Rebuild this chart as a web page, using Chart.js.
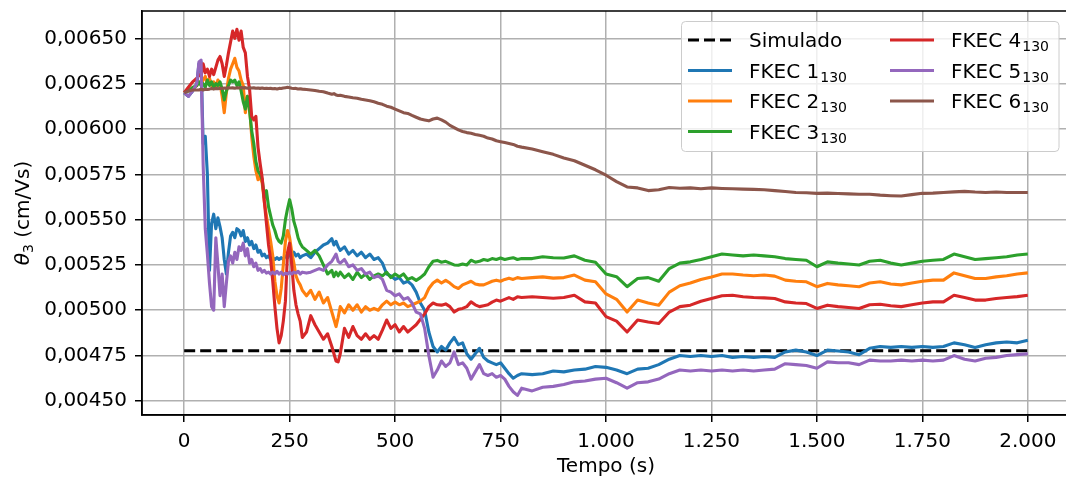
<!DOCTYPE html>
<html>
<head>
<meta charset="utf-8">
<script src="https://cdn.jsdelivr.net/npm/chart.js@4.4.1/dist/chart.umd.min.js"></script>
<style>
  html, body { margin: 0; padding: 0; background: #fff; overflow: hidden; }
  #wrap { width: 1080px; height: 479px; }
</style>
</head>
<body>
<div id="wrap"><canvas id="chart" width="1080" height="479"></canvas></div>
<script>
// tempo (s)
const tempo = [0, 10, 20, 30,
  35, 40, 45, 50, 55, 60, 65, 70, 75, 80,
  85, 90, 95, 100, 105, 110, 115, 120, 125, 130,
  135, 140, 145, 150, 155, 160, 165, 170, 175, 180,
  185, 190, 195, 200, 205, 210, 215, 220, 225, 230,
  235, 240, 245, 250, 255, 260, 265, 270, 275, 280,
  290, 300, 310, 320, 330, 340, 350, 355, 360, 365,
  370, 380, 390, 400, 410, 420, 430, 440, 450, 460,
  470, 480, 490, 500, 510, 520, 530, 540, 550, 560,
  570, 580, 590, 600, 610, 620, 630, 640, 650, 660,
  670, 680, 690, 700, 710, 720, 730, 740, 750, 760,
  770, 780, 790, 800,
  825, 850, 875, 900, 925, 950, 975, 1000, 1025, 1050,
  1075, 1100, 1125, 1150, 1175, 1200, 1225, 1250, 1275, 1300,
  1325, 1350, 1375, 1400, 1425, 1450, 1475, 1500, 1525, 1550,
  1575, 1600, 1625, 1650, 1675, 1700, 1725, 1750, 1775, 1800,
  1825, 1850, 1875, 1900, 1925, 1950, 1975, 2000];

// theta_3 values below are in units of 1e-5 cm/Vs
const UNIT = 1e-5;

const simuladoTempo = [0, 2000];
const simulado = [477.6, 477.6];

const fkec1 = [620, 618, 621, 625,
  636, 637, 592, 596, 575, 522, 548, 553, 545, 551,
  546, 540, 528, 520, 532, 541, 543, 540, 545, 544,
  541, 544, 538, 540, 536, 538, 534, 536, 532, 533,
  530, 531, 529, 530, 528, 529, 528, 529, 528, 529,
  528, 530, 529, 531, 530, 532, 530, 531, 529, 530,
  531, 529, 532, 534, 536, 537, 539.5, 536, 538, 535,
  533, 535, 531, 533, 530, 532, 529, 531, 528, 529,
  526, 520, 519, 517, 518, 515, 516, 514, 510, 504,
  500, 488, 480, 477, 480, 478, 482, 485, 481, 482,
  476, 473, 476, 479, 474, 472, 471, 470, 471, 468,
  465, 462.5, 464, 465,
  464.5, 465, 466.5, 466, 467, 467.5, 469, 468.5, 467, 465,
  467.5, 468, 470, 473, 475, 474.5, 475, 474.5, 475, 474,
  474.5, 474, 474.5, 474, 477, 478, 477, 475, 478, 477.5,
  477, 475.5, 479, 480, 479.5, 480, 479.5, 480, 479.5, 480,
  482, 481, 479.5, 481, 482, 482.5, 482, 483.5];

const fkec2 = [620, 621, 622, 624,
  626, 625, 627, 629, 625, 628, 624, 626, 623, 627,
  625, 618, 609, 620, 628, 633, 636, 639, 634, 632,
  627, 624, 609, 618, 612, 596, 585, 577, 572, 574,
  570, 560, 552, 545, 538, 530, 516, 508, 504, 512,
  525, 538, 544, 540, 532, 526, 519, 516, 514, 511,
  508, 511, 506, 510, 504, 507, 499, 495, 491, 496,
  502, 498.5, 503, 500, 503, 499, 502, 500, 501, 500,
  503, 505, 503, 504.5, 503, 504, 502, 503, 504, 505,
  507, 512, 515, 516.6, 515, 516.5, 515, 513, 512, 514,
  515, 516, 514.5, 514, 514, 515, 516, 516.6, 516, 517,
  517.7, 517, 518, 517.5,
  518, 518.4, 517.7, 518, 519.4, 516.6, 515.7, 509, 506, 499,
  505.6, 504, 502.8, 510, 513.5, 515, 517, 518.4, 520, 520,
  519.4, 519, 519.4, 518.8, 516.6, 516, 515.7, 513, 514.8, 514,
  513.5, 513, 515, 515.7, 514.5, 514, 515, 516, 516.6, 516.6,
  520.6, 519, 517.5, 517.5, 518.4, 519, 520, 520.6];

const fkec3 = [620, 621, 623, 624,
  626, 624, 625, 623, 627, 624, 626, 623, 625, 624,
  626, 622, 616, 621, 624, 627, 626, 627, 624, 626,
  621, 615, 611, 618, 610, 599, 592, 582, 577, 575,
  572, 562, 566, 557, 552, 547, 544, 540, 538, 537,
  541, 550, 556, 561, 556, 549, 545, 540, 537, 535,
  533, 531, 533, 530, 525, 520, 522, 518.5, 521, 519,
  521, 518, 520, 517, 521, 518, 520, 517, 519, 520,
  519, 521, 518, 520, 518.5, 520, 517, 518, 516.5, 518,
  520, 524, 527, 527.5, 526.5, 527, 526, 525, 524.8, 525.5,
  525, 527.6, 526.5, 527, 528, 527.5, 528.5, 528, 528.8, 528,
  528.5, 529, 528, 528.5,
  528.5, 529.5, 529, 528.8, 530, 527.6, 526.5, 520, 518.5, 513,
  517.5, 518, 516, 523, 526, 526.7, 528, 529.5, 531, 530.5,
  530, 530.5, 530, 529.5, 528.5, 528, 527.6, 524, 526.7, 526,
  525.5, 525, 527, 527.6, 526, 525, 526, 527, 527.6, 528,
  531, 529.5, 528, 528.5, 529, 529.5, 530.5, 531];

const fkec4 = [620, 623, 626, 628,
  630, 629, 636, 631, 633, 629, 633, 630, 634, 638,
  640, 636, 629, 635, 642, 648, 654, 650, 655, 649,
  654, 645, 642, 629, 622, 607, 605, 607, 590, 581,
  573, 560, 548, 536, 528, 516, 502, 490, 482, 486,
  494, 505, 532, 537, 525, 511, 503, 498, 494, 485,
  488, 497, 492, 488, 484, 487, 480, 476, 472, 471.5,
  476, 490, 485, 491, 486, 484, 487, 484, 486, 484,
  489, 494.6, 490, 492, 488, 491, 488, 490, 492, 495,
  498, 502, 504, 503, 502.8, 503.5, 502, 499, 500.5, 501,
  502, 504.6, 503, 502, 502.5, 503, 504.5, 505.6, 505, 506,
  507, 506, 507.4, 507,
  507.4, 507, 506.6, 507, 508.3, 504.6, 504, 496.5, 494, 488,
  494.6, 493.5, 492.7, 499, 502, 502.8, 505, 506.5, 508, 508.3,
  507.4, 507, 506.8, 506.5, 504.6, 504, 503.7, 501, 502.8, 502,
  501.5, 501, 503, 503.3, 502.5, 502, 503, 504, 504.6, 504.6,
  508.3, 507, 505.6, 505.6, 506.5, 507, 507.5, 508.3];

const fkec5 = [620, 618, 621, 625,
  637, 638, 580, 545, 531, 515, 502, 500, 540, 525,
  508, 520, 502, 515, 527, 530, 526, 532, 528, 535,
  533, 537, 530, 534, 526, 528, 524, 526, 522, 523,
  521, 522, 520.5, 521, 520, 521, 520, 521.5, 520, 521,
  519.5, 520.5, 520, 521, 520, 521, 520.5, 521.5, 520, 521,
  520.5, 521, 522, 523, 522, 525, 527, 529, 531, 527,
  526, 528, 524, 525, 522, 523, 520, 521, 518, 519,
  517, 511, 510, 508, 509, 506, 507, 504, 499, 498,
  490, 475, 463, 467, 472, 469, 471, 477, 470, 471,
  468, 462, 466, 470, 465, 464, 465, 463, 464, 462,
  458, 455, 453, 457,
  455.5, 457.5, 458, 459, 460.5, 461, 462, 462.5, 460, 457,
  460, 460.5, 462, 465, 467, 466.5, 467, 466.5, 467, 466.5,
  467, 466.5, 467, 467.5, 470.5, 470, 469.5, 468, 471.5, 471,
  471, 470, 472.5, 472, 472, 472.5, 472, 472.5, 472, 472.5,
  475, 473, 472, 473.5, 474, 475, 475.5, 476];

const fkec6 = [620, 621, 621.5, 621.5,
  621.5, 622, 621.5, 622, 621.8, 622, 622.3, 622, 622.4, 622.2,
  622.5, 622.3, 622.6, 622.5, 622.8, 622.6, 622.7, 622.5, 622.8, 622.6,
  622.9, 622.7, 622.8, 622.5, 622.8, 622.6, 622.7, 622.5, 622.6, 622.4,
  622.6, 622.3, 622.5, 622.3, 622.4, 622.2, 622.3, 622.1, 622.4, 622.3,
  622.6, 622.8, 623, 622.8, 622.5, 622.3, 622.4, 622.1, 622.2, 622,
  621.8, 621.5, 621.2, 620.8, 620.5, 619.8, 619.2, 619.5, 618.8, 618.5,
  618.6, 618, 617.6, 617.2, 617, 616.4, 616, 615.6, 615, 614.2,
  613.6, 612.6, 612, 611, 610, 609, 608.6, 607.5, 606.5, 605.5,
  605, 604.5, 605.5, 606, 605, 603.8, 602, 600.8, 599.5, 598.6,
  598, 597.6, 597, 596.5, 596, 595, 594.5, 593.5, 593, 592.5,
  592, 591.5, 590.5, 590,
  589, 587.5, 586, 584, 582.5, 580, 577.5, 574.5, 571, 568,
  567.5, 566, 566.5, 567.7, 567.3, 567.5, 567, 567.5, 567.2, 567,
  566.8, 566.7, 566.5, 566, 565.5, 565, 564.8, 564.5, 564.6, 564.4,
  564.2, 564, 564, 563.5, 563.2, 563, 563.8, 564.5, 564.6, 565,
  565.3, 565.6, 565.2, 565, 565.2, 565, 565, 565];

const xTicks = [0, 250, 500, 750, 1000, 1250, 1500, 1750, 2000];
const yTicks = [0.0045, 0.00475, 0.005, 0.00525, 0.0055, 0.00575, 0.006, 0.00625, 0.0065];

const legendNames = ['Simulado', 'FKEC 1', 'FKEC 2', 'FKEC 3', 'FKEC 4', 'FKEC 5', 'FKEC 6'];
const legendSub = ['', '130', '130', '130', '130', '130', '130'];
const colors = ['#000000', '#1f77b4', '#ff7f0e', '#2ca02c', '#d62728', '#9467bd', '#8c564b'];

Chart.defaults.font.family = "'DejaVu Sans', sans-serif";
Chart.defaults.font.size = 20;
Chart.defaults.color = '#000';

const toXY = (ts, ys) => ts.map((t, i) => ({ x: t, y: ys[i] * UNIT }));
const series = [fkec1, fkec2, fkec3, fkec4, fkec5, fkec6];

const datasets = [{
  label: legendNames[0],
  data: toXY(simuladoTempo, simulado),
  borderColor: colors[0],
  borderDash: [11, 5],
  borderWidth: 3,
  order: 6
}].concat(series.map((ys, i) => ({
  label: legendNames[i + 1],
  data: toXY(tempo, ys),
  borderColor: colors[i + 1],
  borderWidth: 3.1,
  borderJoinStyle: 'round',
  order: 5 - i
})));

const fmtX = v => v >= 1000 ? Math.floor(v / 1000) + '.' + String(v % 1000).padStart(3, '0') : String(v);
const fmtY = v => v.toFixed(5).replace('.', ',');

function roundRect(ctx, x, y, w, h, r) {
  ctx.beginPath();
  ctx.moveTo(x + r, y);
  ctx.arcTo(x + w, y, x + w, y + h, r);
  ctx.arcTo(x + w, y + h, x, y + h, r);
  ctx.arcTo(x, y + h, x, y, r);
  ctx.arcTo(x, y, x + w, y, r);
  ctx.closePath();
}

const extras = {
  id: 'extras',
  afterDraw(chart) {
    const ctx = chart.ctx;
    const a = chart.chartArea;
    ctx.save();
    // axes frame
    ctx.strokeStyle = '#000';
    ctx.lineWidth = 1.5;
    ctx.strokeRect(a.left, a.top, a.right - a.left, a.bottom - a.top);

    // legend box
    roundRect(ctx, 681.5, 21.5, 377.5, 130, 4);
    ctx.fillStyle = 'rgba(255,255,255,0.8)';
    ctx.fill();
    ctx.strokeStyle = '#cccccc';
    ctx.lineWidth = 1;
    ctx.stroke();

    const rows = [40, 70.5, 101, 131.5];
    const colHandle = [688, 890];
    const colText = [749, 951];
    legendNames.forEach((name, i) => {
      const col = i < 4 ? 0 : 1;
      const y = rows[i < 4 ? i : i - 4];
      ctx.beginPath();
      ctx.setLineDash(i === 0 ? [11, 5] : []);
      ctx.strokeStyle = colors[i];
      ctx.lineWidth = 3;
      ctx.moveTo(colHandle[col], y);
      ctx.lineTo(colHandle[col] + 44, y);
      ctx.stroke();
      ctx.setLineDash([]);
      ctx.fillStyle = '#000';
      ctx.textAlign = 'left';
      ctx.textBaseline = 'alphabetic';
      ctx.font = "20px 'DejaVu Sans'";
      ctx.fillText(name, colText[col], y + 7);
      if (legendSub[i]) {
        const w = ctx.measureText(name).width;
        ctx.font = "14px 'DejaVu Sans'";
        ctx.fillText(legendSub[i], colText[col] + w + 1, y + 11);
      }
    });

    // y axis title: theta_3 (cm/Vs)
    ctx.translate(22, (a.top + a.bottom) / 2);
    ctx.rotate(-Math.PI / 2);
    const parts = [
      { t: '\u03B8', f: "italic 20px 'DejaVu Sans'", dy: 0 },
      { t: '3', f: "14px 'DejaVu Sans'", dy: 4 },
      { t: ' (cm/Vs)', f: "20px 'DejaVu Sans'", dy: 0 }
    ];
    let total = 0;
    parts.forEach(p => { ctx.font = p.f; p.w = ctx.measureText(p.t).width; total += p.w; });
    let x = -total / 2;
    ctx.fillStyle = '#000';
    parts.forEach(p => {
      ctx.font = p.f;
      ctx.fillText(p.t, x, 7 + p.dy);
      x += p.w;
    });
    ctx.restore();
  }
};

const gridOpts = { color: '#b0b0b0', lineWidth: 1.5, tickLength: 7, tickColor: '#000', tickWidth: 1.5 };

new Chart(document.getElementById('chart'), {
  type: 'line',
  data: { datasets: datasets },
  options: {
    responsive: false,
    animation: false,
    events: [],
    layout: { padding: { top: 11, right: 10, left: 0, bottom: 0 } },
    elements: { point: { radius: 0 }, line: { tension: 0, fill: false } },
    plugins: { legend: { display: false }, tooltip: { enabled: false } },
    scales: {
      x: {
        type: 'linear',
        min: -100,
        max: 2100,
        afterBuildTicks: s => { s.ticks = xTicks.map(v => ({ value: v })); },
        afterFit: s => { s.height = 64; s.paddingLeft = 0; s.paddingRight = 0; },
        ticks: { padding: 8, maxRotation: 0, autoSkip: false, callback: v => fmtX(v) },
        grid: gridOpts,
        border: { color: '#000', width: 1.5 },
        title: { display: true, text: 'Tempo (s)', padding: { top: 0, bottom: 0 } }
      },
      y: {
        type: 'linear',
        min: 0.004422,
        max: 0.006651,
        afterBuildTicks: s => { s.ticks = yTicks.map(v => ({ value: v })); },
        afterFit: s => { s.width = 142; s.paddingTop = 0; s.paddingBottom = 0; },
        ticks: { padding: 8, autoSkip: false, callback: v => fmtY(v) },
        grid: gridOpts,
        border: { color: '#000', width: 1.5 }
      }
    }
  },
  plugins: [extras]
});
</script>
</body>
</html>
